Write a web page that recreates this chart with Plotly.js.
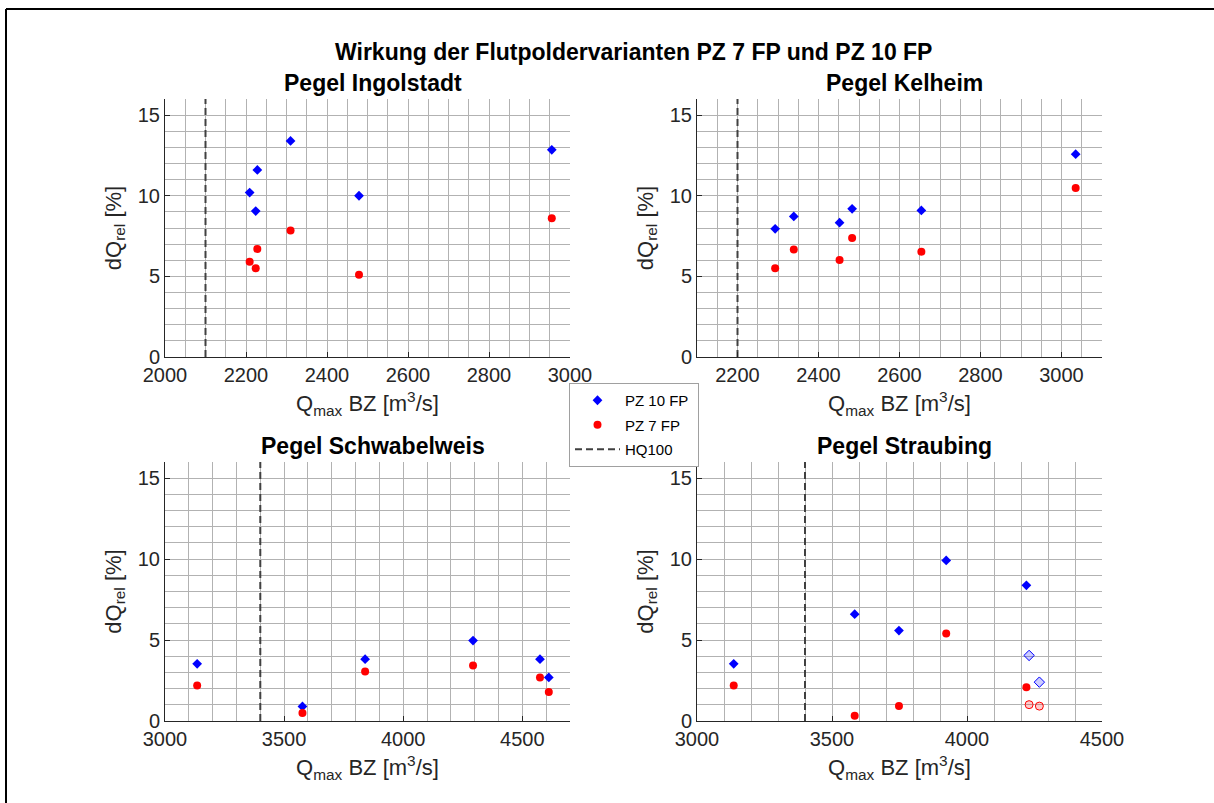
<!DOCTYPE html>
<html>
<head>
<meta charset="utf-8">
<script src="https://cdn.plot.ly/plotly-3.0.1.min.js"></script>
<style>html,body{margin:0;padding:0;background:#fff;}#chart{width:1214px;height:803px;}</style>
</head>
<body>
<div id="chart"></div>
<script>
// ---- Data ----
const ingolstadtQ = [2209, 2228, 2224, 2310, 2479, 2955];
const ingolstadtPZ10 = [10.2, 11.6, 9.05, 13.4, 10.0, 12.85];
const ingolstadtPZ7 = [5.9, 6.7, 5.5, 7.85, 5.1, 8.6];

const kelheimQ = [2293, 2339, 2452, 2483, 2654, 3035];
const kelheimPZ10 = [7.95, 8.72, 8.33, 9.19, 9.09, 12.58];
const kelheimPZ7 = [5.5, 6.67, 6.01, 7.38, 6.53, 10.48];

const schwabelweisQ = [3135, 3577, 3840, 4293, 4574, 4611];
const schwabelweisPZ10 = [3.53, 0.9, 3.82, 4.97, 3.82, 2.69];
const schwabelweisPZ7 = [2.2, 0.49, 3.06, 3.43, 2.69, 1.79];

const straubingQ = [3136, 3584, 3748, 3923, 4220];
const straubingPZ10 = [3.53, 6.6, 5.59, 9.92, 8.38];
const straubingPZ7 = [2.2, 0.33, 0.92, 5.4, 2.08];
const straubingOpenQ = [4230, 4268];
const straubingOpenPZ10 = [4.05, 2.4];
const straubingOpenPZ7 = [1.01, 0.92];

const hq100 = [2100, 2200, 3400, 3400];
const yLimits = [0, 16];

const panelTitles = ['Pegel Ingolstadt', 'Pegel Kelheim', 'Pegel Schwabelweis', 'Pegel Straubing'];
const mainTitle = 'Wirkung der Flutpoldervarianten PZ 7 FP und PZ 10 FP';
const seriesNames = ['PZ 10 FP', 'PZ 7 FP', 'HQ100'];
const xTitle = 'Q<sub>max</sub> BZ [m<sup>3</sup>/s]';
const yTitle = 'dQ<sub>rel</sub> [%]';

// ---- Build ----
const W = 1214, H = 803;
const FONT = 'Liberation Sans, Arial, Helvetica, sans-serif';
const panels = [
  {q: ingolstadtQ, p10: ingolstadtPZ10, p7: ingolstadtPZ7, hq: hq100[0], xr: [2000, 3000], dt: 200, mdt: 50, t0: 2000},
  {q: kelheimQ, p10: kelheimPZ10, p7: kelheimPZ7, hq: hq100[1], xr: [2100, 3100], dt: 200, mdt: 50, t0: 2000},
  {q: schwabelweisQ, p10: schwabelweisPZ10, p7: schwabelweisPZ7, hq: hq100[2], xr: [3000, 4700], dt: 500, mdt: 100, t0: 3000},
  {q: straubingQ, p10: straubingPZ10, p7: straubingPZ7, hq: hq100[3], xr: [3000, 4500], dt: 500, mdt: 100, t0: 3000}
];
const px = [[165, 570], [697, 1102], [165, 570], [697, 1102]];
const py = [[99, 357], [99, 357], [462, 721], [462, 721]];
const pad = '\u00a0';

const traces = [];
const layout = {
  width: W, height: H,
  margin: {l: 0, r: 0, t: 0, b: 0},
  paper_bgcolor: '#fff', plot_bgcolor: 'rgba(0,0,0,0)',
  font: {family: FONT, color: '#262626'},
  showlegend: true,
  legend: {
    x: 569 / W, y: 1 - 383 / H, xanchor: 'left', yanchor: 'top',
    bgcolor: '#fff', bordercolor: '#a0a0a0', borderwidth: 1,
    font: {family: FONT, size: 15, color: '#000'},
    traceorder: 'grouped', tracegroupgap: 2, itemwidth: 45
  },
  annotations: [],
  shapes: [
    {type: 'line', xref: 'paper', yref: 'paper', x0: 6 / W, x1: 6 / W, y0: -0.05, y1: 1 - 9 / H, line: {color: '#000', width: 2}},
    {type: 'line', xref: 'paper', yref: 'paper', x0: 6 / W, x1: 1.05, y0: 1 - 9 / H, y1: 1 - 9 / H, line: {color: '#000', width: 2}}
  ]
};

const gridCol = '#b2b2b2';
panels.forEach((p, i) => {
  const n = i + 1;
  const xa = 'x' + (n === 1 ? '' : n), ya = 'y' + (n === 1 ? '' : n);
  const xk = 'xaxis' + (n === 1 ? '' : n), yk = 'yaxis' + (n === 1 ? '' : n);
  const first = i === 0;
  traces.push({
    x: p.q, y: p.p10, xaxis: xa, yaxis: ya, type: 'scatter', mode: 'markers',
    name: seriesNames[0] + pad, legendgroup: 'g1', showlegend: first,
    marker: {symbol: 'diamond', size: 7.5, color: '#0000ff', line: {width: 0}}
  });
  traces.push({
    x: p.q, y: p.p7, xaxis: xa, yaxis: ya, type: 'scatter', mode: 'markers',
    name: seriesNames[1], legendgroup: 'g2', showlegend: first,
    marker: {symbol: 'circle', size: 8, color: '#ff0000', line: {width: 0}}
  });
  traces.push({
    x: [p.hq, p.hq], y: yLimits, xaxis: xa, yaxis: ya, type: 'scatter', mode: 'lines',
    name: seriesNames[2], legendgroup: 'g3', showlegend: first,
    line: {color: '#404040', width: 2, dash: '7px,4px'}
  });
  layout[xk] = {
    domain: [px[i][0] / W, px[i][1] / W], anchor: ya, range: p.xr,
    tick0: p.t0, dtick: p.dt,
    showline: true, linecolor: '#262626', linewidth: 1,
    ticks: 'inside', ticklen: 5, tickcolor: '#262626',
    tickfont: {family: FONT, size: 20, color: '#262626'},
    showgrid: true, gridcolor: gridCol, gridwidth: 1, zeroline: false,
    minor: {dtick: p.mdt, showgrid: true, gridcolor: gridCol, gridwidth: 1, ticks: ''},
    title: {text: xTitle, font: {family: FONT, size: 22, color: '#262626'}, standoff: 10},
    fixedrange: true
  };
  layout[yk] = {
    domain: [1 - py[i][1] / H, 1 - py[i][0] / H], anchor: xa, range: yLimits,
    tick0: 0, dtick: 5,
    showline: true, linecolor: '#262626', linewidth: 1,
    ticks: 'inside', ticklen: 5, tickcolor: '#262626',
    tickfont: {family: FONT, size: 20, color: '#262626'},
    showgrid: true, gridcolor: gridCol, gridwidth: 1, zeroline: false,
    minor: {dtick: 1, showgrid: true, gridcolor: gridCol, gridwidth: 1, ticks: ''},
    title: {text: yTitle, font: {family: FONT, size: 22, color: '#262626'}, standoff: 10},
    fixedrange: true
  };
  layout.annotations.push({
    text: '<b>' + panelTitles[i] + '</b>', xref: 'paper', yref: 'paper',
    x: ((px[i][0] + px[i][1]) / 2 + 5) / W, y: 1 - (i < 2 ? 83 : 446) / H,
    xanchor: 'center', yanchor: 'middle', showarrow: false,
    font: {family: FONT, size: 23, color: '#000'}
  });
});

// open (hollow) markers in Straubing panel
traces.push({
  x: straubingOpenQ, y: straubingOpenPZ10, xaxis: 'x4', yaxis: 'y4', type: 'scatter', mode: 'markers',
  showlegend: false, name: seriesNames[0] + ' ',
  marker: {symbol: 'diamond', size: 8, color: 'rgba(0,0,255,0.2)', line: {color: '#0000ff', width: 1}}
});
traces.push({
  x: straubingOpenQ, y: straubingOpenPZ7, xaxis: 'x4', yaxis: 'y4', type: 'scatter', mode: 'markers',
  showlegend: false, name: seriesNames[1] + ' ',
  marker: {symbol: 'circle', size: 8, color: 'rgba(255,0,0,0.2)', line: {color: '#ff0000', width: 1}}
});

layout.annotations.push({
  text: '<b>' + mainTitle + '</b>', xref: 'paper', yref: 'paper',
  x: 633.5 / W, y: 1 - 52 / H, xanchor: 'center', yanchor: 'middle', showarrow: false,
  font: {family: FONT, size: 23, color: '#000'}
});

Plotly.newPlot('chart', traces, layout, {displayModeBar: false, staticPlot: true});
</script>
</body>
</html>
